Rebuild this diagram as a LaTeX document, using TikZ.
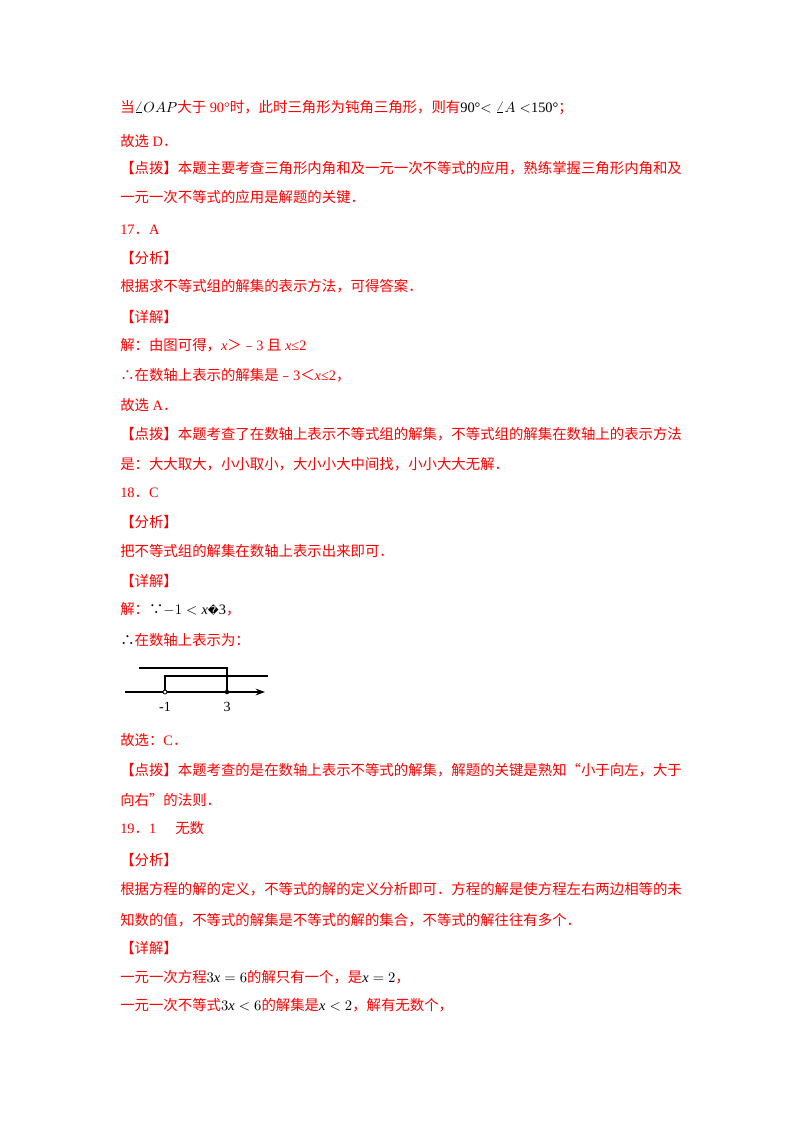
\documentclass[tikz,border=0pt]{standalone}
\usepackage{fontspec}
\setmainfont{Liberation Serif}
\newfontfamily\cjk{Noto Sans CJK SC}
\newfontfamily\djv{DejaVu Sans}
\usetikzlibrary{arrows.meta}
\definecolor{tred}{RGB}{255,0,0}
\newcommand{\en}[1]{{\rmfamily #1}}
\newcommand{\bk}[1]{\textcolor{black}{#1}}
\begin{document}
\begin{tikzpicture}[x=0.75pt,y=-0.75pt,
  ln/.style={anchor=base west,inner sep=0pt,text=tred,font=\cjk\fontsize{10.8pt}{12pt}\selectfont},
  lab/.style={anchor=base,inner sep=0pt,font=\rmfamily\fontsize{10.5pt}{12pt}\selectfont}]
\useasboundingbox (0,0) rectangle (800,1132);
\node[ln] (l1) at (120,112) {当\bk{$\angle OAP$}大于\en{ 90°}时，此时三角形为钝角三角形，则有\bk{\en{90°}$<\angle A<$\en{150°}}；};
\node[ln] (l2) at (120,146) {故选\en{ D}．};
\node[ln] (l3) at (120,173) {【点拨】本题主要考查三角形内角和及一元一次不等式的应用，熟练掌握三角形内角和及};
\node[ln] (l4) at (120,202) {一元一次不等式的应用是解题的关键．};
\node[ln] (l5) at (120,234) {\en{17}．\en{A}};
\node[ln] (l6) at (120,263) {【分析】};
\node[ln] (l7) at (120,291) {根据求不等式组的解集的表示方法，可得答案．};
\node[ln] (l8) at (120,322) {【详解】};
\node[ln] (l9) at (120,350) {解：由图可得，\en{\textit{x}}＞﹣\en{3 }且\en{ \textit{x}≤2}};
\node[ln] (l10) at (120,380) {∴在数轴上表示的解集是﹣\en{3}＜\en{\textit{x}≤2}，};
\node[ln] (l11) at (120,410) {故选\en{ A}．};
\node[ln] (l12) at (120,439) {【点拨】本题考查了在数轴上表示不等式组的解集，不等式组的解集在数轴上的表示方法};
\node[ln] (l13) at (120,469) {是：大大取大，小小取小，大小小大中间找，小小大大无解．};
\node[ln] (l14) at (120,497) {\en{18}．\en{C}};
\node[ln] (l15) at (120,527) {【分析】};
\node[ln] (l16) at (120,556) {把不等式组的解集在数轴上表示出来即可．};
\node[ln] (l17) at (120,586) {【详解】};
\node[ln] (l18) at (120,614) {解：\bk{∵\en{$-1<\textit{x}$}{\djv\fontsize{8pt}{9pt}\selectfont\char"FFFD}\en{3}}，};
\node[ln] (l19) at (120,645) {\bk{∴}在数轴上表示为：};
% number line
\coordinate (a0) at (125,692);
\coordinate (a1) at (265,692);
\coordinate (m1) at (165,692);
\coordinate (p3) at (227,692);
\draw[line width=0.9pt,-{Stealth[length=7pt,width=5pt]}] (a0) -- (a1);
\draw[line width=0.9pt] (139,668) -- (227,668) -- (p3);
\draw[line width=0.9pt] (268,676) -- (165,676) -- (m1);
\fill (p3) circle (2.2);
\draw[fill=white,line width=0.6pt] (m1) circle (2);
\node[lab] (nm1) at (165,711) {-1};
\node[lab] (n3) at (227,711) {3};
\node[ln] (l20) at (120,745) {故选：\en{C}．};
\node[ln] (l21) at (120,775) {【点拨】本题考查的是在数轴上表示不等式的解集，解题的关键是熟知“小于向左，大于};
\node[ln] (l22) at (120,805) {向右”的法则．};
\node[ln] (l23) at (120,833) {\en{19}．\en{1}};
\node[ln] (l23b) at (175,833) {无数};
\node[ln] (l24) at (120,865) {【分析】};
\node[ln] (l25) at (120,894) {根据方程的解的定义，不等式的解的定义分析即可．方程的解是使方程左右两边相等的未};
\node[ln] (l26) at (120,925) {知数的值，不等式的解集是不等式的解的集合，不等式的解往往有多个．};
\node[ln] (l27) at (120,953) {【详解】};
\node[ln] (l28) at (120,982) {一元一次方程\bk{\en{$3\textit{x}=6$}}的解只有一个，是\bk{\en{$\textit{x}=2$}}，};
\node[ln] (l29) at (120,1010) {一元一次不等式\bk{\en{$3\textit{x}<6$}}的解集是\bk{\en{$\textit{x}<2$}}，解有无数个，};
\end{tikzpicture}
\end{document}
